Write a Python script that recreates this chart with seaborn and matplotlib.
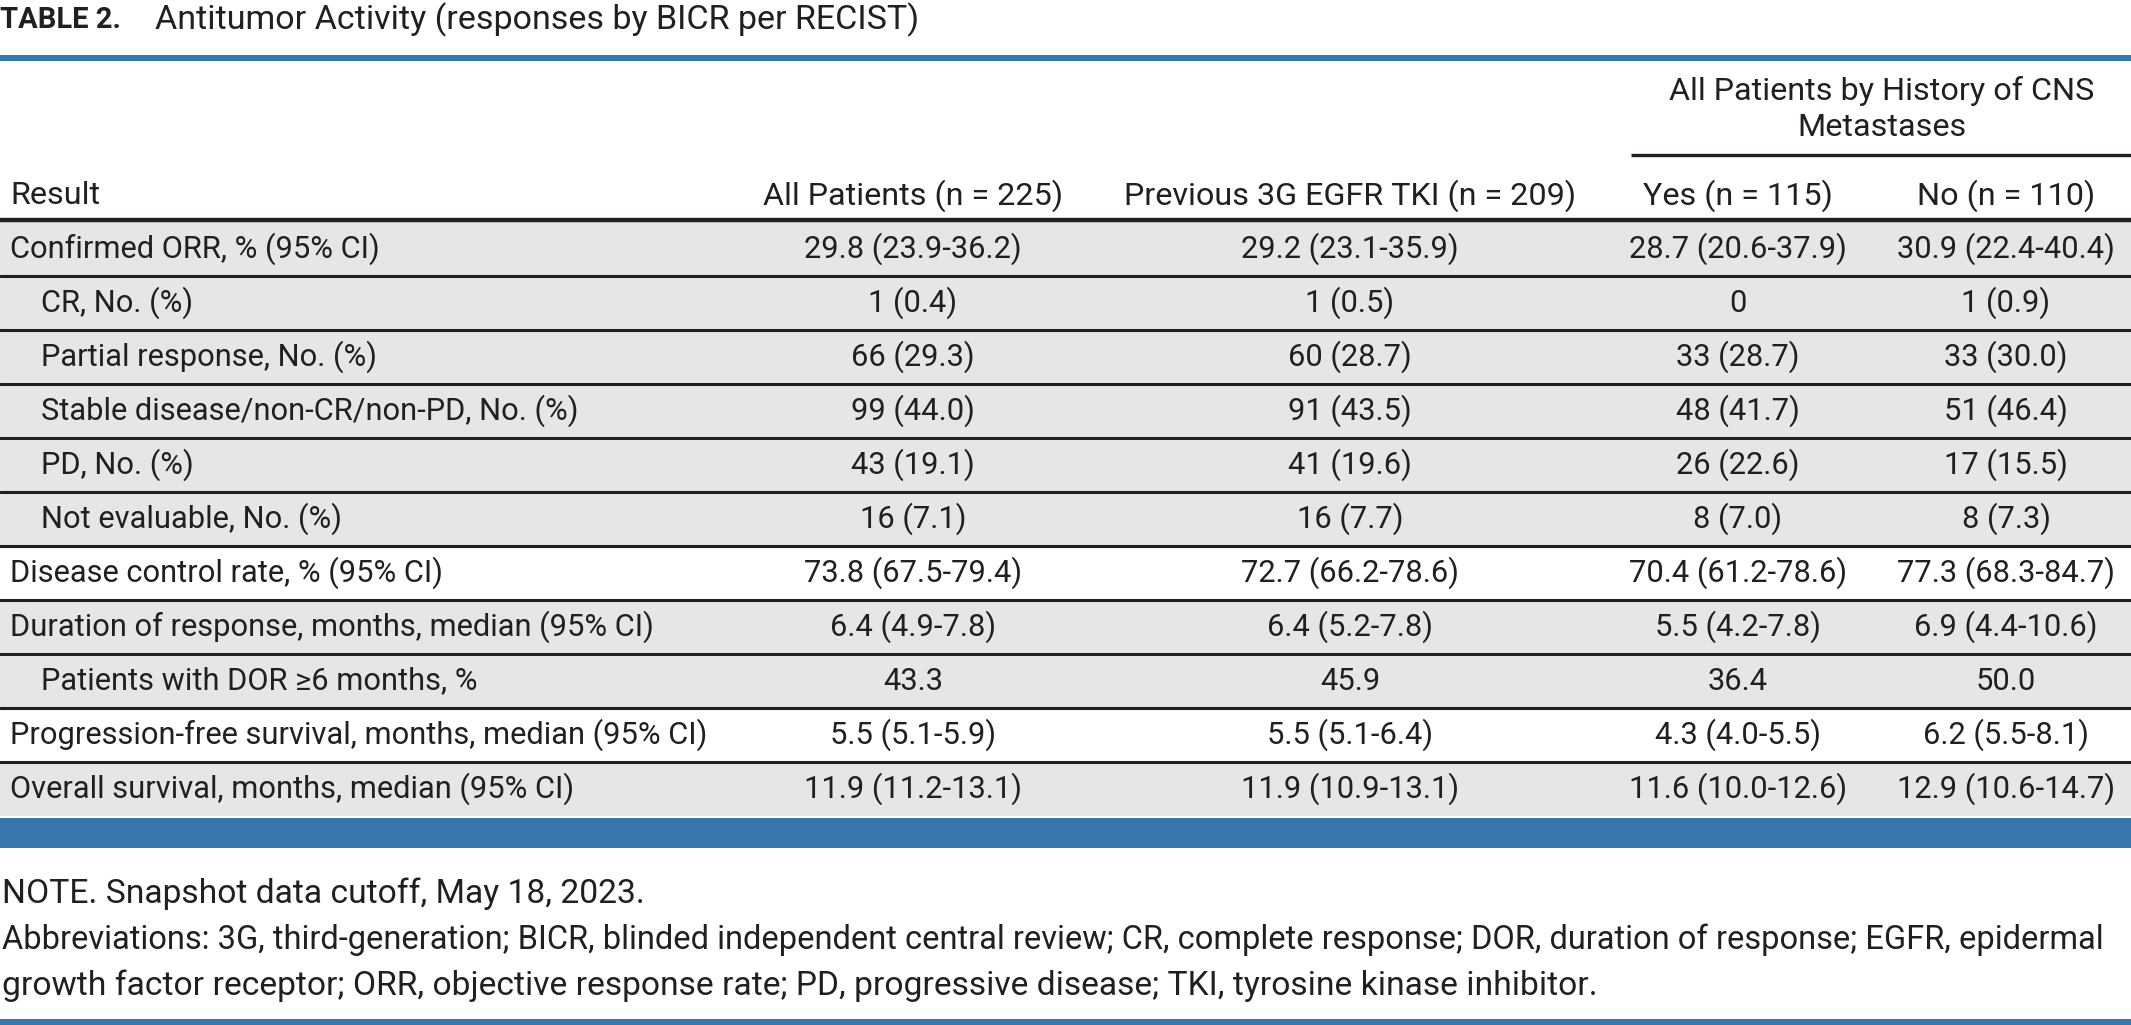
import matplotlib.pyplot as plt
import seaborn as sns

# table content
title_bold = "TABLE 2."
title_rest = "Antitumor Activity (responses by BICR per RECIST)"

group_header = "All Patients by History of CNS\nMetastases"
col_headers = ["Result", "All Patients (n = 225)",
               "Previous 3G EGFR TKI (n = 209)",
               "Yes (n = 115)", "No (n = 110)"]

row_labels = [
    "Confirmed ORR, % (95% CI)",
    "CR, No. (%)",
    "Partial response, No. (%)",
    "Stable disease/non-CR/non-PD, No. (%)",
    "PD, No. (%)",
    "Not evaluable, No. (%)",
    "Disease control rate, % (95% CI)",
    "Duration of response, months, median (95% CI)",
    "Patients with DOR \u22656 months, %",
    "Progression-free survival, months, median (95% CI)",
    "Overall survival, months, median (95% CI)",
]
row_indent = [0, 1, 1, 1, 1, 1, 0, 0, 1, 0, 0]
row_shaded = [1, 1, 1, 1, 1, 1, 0, 1, 1, 0, 1]

all_patients = ["29.8 (23.9-36.2)", "1 (0.4)", "66 (29.3)", "99 (44.0)",
                "43 (19.1)", "16 (7.1)", "73.8 (67.5-79.4)", "6.4 (4.9-7.8)",
                "43.3", "5.5 (5.1-5.9)", "11.9 (11.2-13.1)"]
prev_3g = ["29.2 (23.1-35.9)", "1 (0.5)", "60 (28.7)", "91 (43.5)",
           "41 (19.6)", "16 (7.7)", "72.7 (66.2-78.6)", "6.4 (5.2-7.8)",
           "45.9", "5.5 (5.1-6.4)", "11.9 (10.9-13.1)"]
cns_yes = ["28.7 (20.6-37.9)", "0", "33 (28.7)", "48 (41.7)",
           "26 (22.6)", "8 (7.0)", "70.4 (61.2-78.6)", "5.5 (4.2-7.8)",
           "36.4", "4.3 (4.0-5.5)", "11.6 (10.0-12.6)"]
cns_no = ["30.9 (22.4-40.4)", "1 (0.9)", "33 (30.0)", "51 (46.4)",
          "17 (15.5)", "8 (7.3)", "77.3 (68.3-84.7)", "6.9 (4.4-10.6)",
          "50.0", "6.2 (5.5-8.1)", "12.9 (10.6-14.7)"]

notes = [
    "NOTE. Snapshot data cutoff, May 18, 2023.",
    "Abbreviations: 3G, third-generation; BICR, blinded independent central "
    "review; CR, complete response; DOR, duration of response; EGFR, epidermal",
    "growth factor receptor; ORR, objective response rate; PD, progressive "
    "disease; TKI, tyrosine kinase inhibitor.",
]

# style
sns.set_theme(style="white")
plt.rcParams['font.family'] = ['Roboto', 'DejaVu Sans']
BLUE = "#3777ae"
GRAY = "#e6e6e6"
INK = "#231f20"
FS_BODY = 22.2
FS_HEAD = 23.3
FS_TITLE = 24.5
FS_NOTE = [24.2, 23.5, 24.2]  # long middle line has to fit the width

W, H = 2131, 1025
fig = plt.figure(figsize=(W / 100, H / 100), dpi=100)
ax = fig.add_axes([0, 0, 1, 1])
ax.set_xlim(0, W)
ax.set_ylim(H, 0)
ax.axis("off")

# title
ax.text(0, 20, title_bold, fontsize=21, fontweight="bold", color=INK,
        va="center", ha="left")
ax.text(155, 20, title_rest, fontsize=FS_TITLE, color=INK, va="center",
        ha="left")
ax.axhspan(55, 61, color=BLUE, lw=0)

# header
col_x = [10, 913, 1350, 1738, 2006]
ax.text(1882, 109, group_header, fontsize=FS_HEAD, color=INK, ha="center",
        va="center", linespacing=1.3)
ax.plot([1631, W], [154.5, 154.5], color=INK, lw=2.4, solid_capstyle="butt")
for i, h in enumerate(col_headers):
    ax.text(col_x[i], 196, h, fontsize=FS_HEAD, color=INK, va="center",
            ha="left" if i == 0 else "center")

# body rows
top, rh = 222, 54
columns = [all_patients, prev_3g, cns_yes, cns_no]
for k, label in enumerate(row_labels):
    y0 = top + k * rh
    if row_shaded[k]:
        ax.axhspan(y0, y0 + rh, color=GRAY, lw=0, zorder=0)
    yc = y0 + rh / 2
    ax.text(41 if row_indent[k] else 10, yc, label, fontsize=FS_BODY,
            color=INK, va="center", ha="left")
    for c, vals in enumerate(columns):
        ax.text(col_x[c + 1], yc, vals[k], fontsize=FS_BODY, color=INK,
                va="center", ha="center")
    if k > 0:
        ax.axhline(y0, color=INK, lw=2.2)
ax.axhline(top - 2, color=INK, lw=3.2)

bottom = top + len(row_labels) * rh
ax.axhspan(bottom + 2, bottom + 32, color=BLUE, lw=0)

# footnotes
for i, line in enumerate(notes):
    ax.text(2, 894 + i * 46, line, fontsize=FS_NOTE[i], color=INK,
            va="center", ha="left")
ax.axhspan(1019, H, color=BLUE, lw=0)

fig.savefig("out.png", dpi=100)
